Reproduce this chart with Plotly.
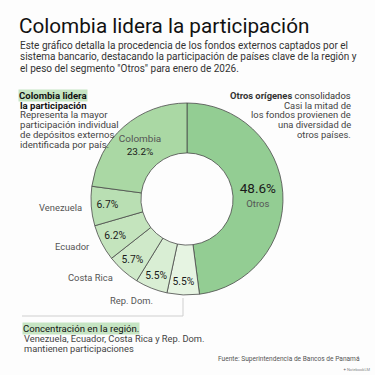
import plotly.graph_objects as go

# ---- data ----
slice_names = ["Otros", "Rep. Dom. (b)", "Rep. Dom.", "Costa Rica", "Ecuador", "Venezuela", "Colombia"]
slice_values = [48.6, 5.5, 5.5, 5.7, 6.2, 6.7, 23.2]
slice_colors = ["#93cd93", "#e6f4e2", "#d9eed4", "#cfe9c9", "#c4e4bd", "#b9dfb3", "#aad8a4"]

outer_labels = ["Venezuela", "Ecuador", "Costa Rica", "Rep. Dom."]

title = "Colombia lidera la participación"
subtitle_lines = [
    "Este gráfico detalla la procedencia de los fondos externos captados por el",
    "sistema bancario, destacando la participación de países clave de la región y",
    "el peso del segmento \"Otros\" para enero de 2026.",
]
left_note = ["Representa la mayor", "participación individual", "de depósitos externos", "identificada por país."]
right_note = ["Casi la mitad de", "los fondos provienen de", "una diversidad de", "otros países."]
bottom_note = ["Venezuela, Ecuador, Costa Rica y Rep. Dom.", "mantienen participaciones"]
source = "Fuente: Superintendencia de Bancos de Panamá"

FONT = "Roboto"
W = H = 375


def px(x):
    return x / W


def py(y):
    return 1 - y / H


texts = []
for name, v in zip(slice_names, slice_values):
    if name == "Otros":
        texts.append(f"<span style='font-size:13.5px'>{v:.1f}%</span><br><span style='color:#555555;font-size:9.5px'>Otros</span>")
    elif name == "Colombia":
        texts.append(f"<span style='color:#555555'>Colombia</span><br>{v:.1f}%")
    else:
        texts.append(f"{v:.1f}%")

cx, cy, r = 187, 199, 96
fig = go.Figure(
    go.Pie(
        labels=slice_names,
        values=slice_values,
        text=texts,
        texttemplate="%{text}",
        textinfo="text",
        textposition="inside",
        insidetextorientation="horizontal",
        sort=False,
        direction="clockwise",
        rotation=0,
        hole=0.48,
        marker=dict(colors=slice_colors, line=dict(color="#4a4a4a", width=0.8)),
        textfont=dict(family=FONT, size=10.3, color="#1a1a1a"),
        domain=dict(x=[px(cx - r), px(cx + r)], y=[py(cy + r), py(cy - r)]),
        showlegend=False,
        hoverinfo="label+value",
    )
)

ann = []


def add(text, x, y, size=10.5, color="#333333", xanchor="left", bg=None, bold=False):
    if bold:
        text = f"<b>{text}</b>"
    d = dict(text=text, x=px(x), y=py(y), xref="paper", yref="paper", xanchor=xanchor,
             yanchor="middle", showarrow=False, font=dict(family=FONT, size=size, color=color))
    if bg:
        d.update(bgcolor=bg, borderpad=0)
    ann.append(d)


add(title, 17, 26, size=20.7, color="#111111")
for i, line in enumerate(subtitle_lines):
    add(line, 18, 45 + i * 11.7, size=10.0, color="#333333")

HL = "#c6e5c3"
add("Colombia lidera", 18, 95, size=9.6, color="#111111", bg=HL, bold=True)
add("la participación", 18, 105, size=9.6, color="#111111", bold=True)
for i, line in enumerate(left_note):
    add(line, 18, 114.5 + i * 10, size=9.6, color="#444444")

add("<b>Otros orígenes</b> consolidados", 353, 95, size=9.4, color="#333333", xanchor="right")
for i, line in enumerate(right_note):
    add(line, 353, 105 + i * 9.8, size=9.4, color="#444444", xanchor="right")

label_pos = {"Venezuela": (84, 207), "Ecuador": (92, 246), "Costa Rica": (115, 277), "Rep. Dom.": (155, 300)}
for lab in outer_labels:
    x, y = label_pos[lab]
    add(lab, x, y, size=9.4, color="#555555", xanchor="right")

add("Concentración en la región.", 22, 328, size=9.6, color="#111111", bg=HL)
for i, line in enumerate(bottom_note):
    add(line, 22, 338.5 + i * 10, size=9.3, color="#444444")

add(source, 362, 359, size=6.6, color="#555555", xanchor="right")
add("✦ NotebookLM", 373, 369, size=4, color="#888888", xanchor="right")

shapes = [
    dict(type="line", xref="paper", yref="paper", x0=px(22), x1=px(183), y0=py(316), y1=py(316),
         line=dict(color="#cfcfcf", width=1)),
    dict(type="line", xref="paper", yref="paper", x0=px(183), x1=px(183), y0=py(298), y1=py(316),
         line=dict(color="#cfcfcf", width=1)),
]

fig.update_layout(
    width=W, height=H,
    margin=dict(l=0, r=0, t=0, b=0),
    paper_bgcolor="#fdfdfd",
    plot_bgcolor="#fdfdfd",
    annotations=ann,
    shapes=shapes,
    font=dict(family=FONT),
)

fig.write_html("out.html", config={"displayModeBar": False},
               post_script="document.body.style.margin='0';document.body.style.overflow='hidden';")
